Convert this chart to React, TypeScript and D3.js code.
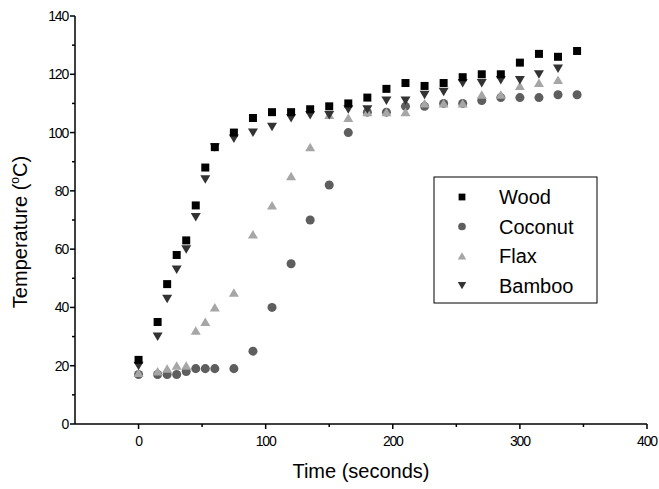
import * as d3 from 'd3';

// time (s) for each reading
const woodTime = [0, 15, 22.5, 30, 37.5, 45, 52.5, 60, 75, 90, 105, 120, 135, 150, 165, 180, 195, 210, 225, 240, 255, 270, 285, 300, 315, 330, 345];
const woodTemp = [22, 35, 48, 58, 63, 75, 88, 95, 100, 105, 107, 107, 108, 109, 110, 112, 115, 117, 116, 117, 119, 120, 120, 124, 127, 126, 128];

const coconutTime = [0, 15, 22.5, 30, 37.5, 45, 52.5, 60, 75, 90, 105, 120, 135, 150, 165, 180, 195, 210, 225, 240, 255, 270, 285, 300, 315, 330, 345];
const coconutTemp = [17, 17, 17, 17, 18, 19, 19, 19, 19, 25, 40, 55, 70, 82, 100, 107, 107, 109, 109, 110, 110, 111, 112, 112, 112, 113, 113];

const flaxTime = [0, 15, 22.5, 30, 37.5, 45, 52.5, 60, 75, 90, 105, 120, 135, 150, 165, 180, 195, 210, 225, 240, 255, 270, 285, 300, 315, 330];
const flaxTemp = [17.5, 18, 19, 20, 20, 32, 35, 40, 45, 65, 75, 85, 95, 106, 105, 107, 107, 107, 110, 110, 110, 113, 113, 116, 117, 118];

const bambooTime = [0, 15, 22.5, 30, 37.5, 45, 52.5, 60, 75, 90, 105, 120, 135, 150, 165, 180, 195, 210, 225, 240, 255, 270, 285, 300, 315, 330];
const bambooTemp = [20, 30, 43, 53, 60, 71, 84, 95, 98, 100, 102, 105, 106, 106, 108, 108, 111, 111, 113, 114, 117, 117, 118, 118, 120, 122];

const xTicks = [0, 100, 200, 300, 400];
const xMinor = [50, 150, 250, 350];
const yTicks = [0, 20, 40, 60, 80, 100, 120, 140];
const yMinor = [10, 30, 50, 70, 90, 110, 130];

const W = 659, H = 489;
const x = d3.scaleLinear().domain([-50, 400]).range([75, 647]);
const y = d3.scaleLinear().domain([0, 140]).range([424, 16]);

const upTri = 'M0,-4.5L5,4L-5,4Z';
const downTri = 'M0,4.5L5,-4L-5,-4Z';
const square = d3.symbol().type(d3.symbolSquare).size(64)() as string;
const circle = d3.symbol().type(d3.symbolCircle).size(64)() as string;

const series = [
  { name: 'Coconut', time: coconutTime, temp: coconutTemp, path: circle, fill: '#5e5e5e' },
  { name: 'Flax', time: flaxTime, temp: flaxTemp, path: upTri, fill: '#a6a6a6' },
  { name: 'Bamboo', time: bambooTime, temp: bambooTemp, path: downTri, fill: '#333333' },
  { name: 'Wood', time: woodTime, temp: woodTemp, path: square, fill: '#000000' },
];
const legendOrder = ['Wood', 'Coconut', 'Flax', 'Bamboo'];

const font = 'Liberation Sans, Arial, sans-serif';

export default function App() {
  return (
    <svg width={W} height={H} style={{ position: 'absolute', left: 0, top: 0, background: '#fff' }}>
      {/* axes */}
      <g stroke="#000" strokeWidth={1.5}>
        <line x1={x(-50)} x2={x(400)} y1={y(0)} y2={y(0)} />
        <line x1={x(-50)} x2={x(-50)} y1={y(0)} y2={y(140)} />
        {xTicks.map(t => <line key={'xt' + t} x1={x(t)} x2={x(t)} y1={y(0)} y2={y(0) + 5} />)}
        {xMinor.map(t => <line key={'xm' + t} x1={x(t)} x2={x(t)} y1={y(0)} y2={y(0) + 3} />)}
        {yTicks.map(t => <line key={'yt' + t} x1={x(-50)} x2={x(-50) - 5} y1={y(t)} y2={y(t)} />)}
        {yMinor.map(t => <line key={'ym' + t} x1={x(-50)} x2={x(-50) - 3} y1={y(t)} y2={y(t)} />)}
      </g>
      <g fontFamily={font} fontSize={14} fill="#000" letterSpacing={-1.2}>
        {xTicks.map(t => (
          <text key={'xl' + t} x={x(t)} y={y(0) + 22} textAnchor="middle">{t}</text>
        ))}
        {yTicks.map(t => (
          <text key={'yl' + t} x={x(-50) - 7} y={y(t) + 5} textAnchor="end">{t}</text>
        ))}
      </g>
      <text x={x(175)} y={478} textAnchor="middle" fontFamily={font} fontSize={20}>Time (seconds)</text>
      <text transform={`translate(27,232) rotate(-90)`} textAnchor="middle" fontFamily={font} fontSize={20}>
        Temperature (<tspan fontSize={12} dy={-8}>o</tspan><tspan dy={8}>C)</tspan>
      </text>

      {/* points */}
      {series.map(s => (
        <g key={s.name} fill={s.fill}>
          {s.time.map((t, i) => (
            <path key={i} d={s.path} transform={`translate(${x(t)},${y(s.temp[i])})`} />
          ))}
        </g>
      ))}

      {/* legend */}
      <rect x={434} y={177} width={163} height={126} fill="#fff" stroke="#000" strokeWidth={1} />
      {legendOrder.map((name, i) => {
        const s = series.find(d => d.name === name)!;
        const cy = 197 + i * 29.5;
        return (
          <g key={name}>
            <path d={s.path} fill={s.fill} transform={`translate(462,${cy}) scale(0.85)`} />
            <text x={499} y={cy + 7} fontFamily={font} fontSize={20}>{name}</text>
          </g>
        );
      })}
    </svg>
  );
}
